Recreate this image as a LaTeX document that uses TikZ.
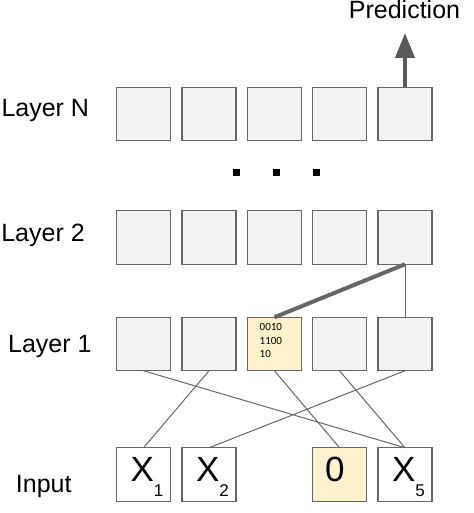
\documentclass[tikz,border=0pt]{standalone}
\usepackage{fontspec}
\setmainfont{Liberation Sans}
\newfontfamily\bitsfont{Carlito}
\usetikzlibrary{arrows.meta}

\definecolor{cellgray}{HTML}{F3F3F3}
\definecolor{cellline}{HTML}{666666}
\definecolor{celltan}{HTML}{FFF2CC}
\definecolor{arrowgray}{HTML}{595959}

% subscript of an input cell, set lower than TeX would
\newcommand{\insub}[1]{\raisebox{-15pt}{\fontsize{17}{17}\selectfont #1}}
% strut that puts the input text on the same baseline in every cell
\newcommand{\instrut}{\rule{0pt}{29.5pt}}

\begin{document}
\begin{tikzpicture}[
  x=1pt, y=-1pt,
  every node/.style={inner sep=1pt},
  cell/.style={rectangle, draw=cellline, fill=cellgray, line width=1.3pt,
    minimum width=54pt, minimum height=53.5pt, inner sep=0pt, outer sep=0pt},
  incell/.style={cell, fill=white, font=\fontsize{35}{40}\selectfont},
  lab/.style={anchor=base, font=\fontsize{25}{30}\selectfont},
  dot/.style={rectangle, fill=black, minimum size=7pt, inner sep=0pt},
  % thin links between the first layer and the input, thick for the one picked out
  link/.style={draw=cellline, line width=1pt},
  thick link/.style={draw=cellline, line width=4pt},
  outarrow/.style={draw=arrowgray, line width=4pt,
    -{Triangle[length=25pt, width=19pt]}}]

  \useasboundingbox (0,0) rectangle (473,513);

  % layer N
  \node[cell] (n1) at (143.5,114) {};
  \node[cell] (n2) at (209.0,114) {};
  \node[cell] (n3) at (274.5,114) {};
  \node[cell] (n4) at (339.5,114) {};
  \node[cell] (n5) at (405.0,114) {};

  % the dots between layer N and layer 2
  \node[dot] (d1) at (236,172) {};
  \node[dot] (d2) at (276,172) {};
  \node[dot] (d3) at (316,172) {};

  % layer 2
  \node[cell] (b1) at (143.5,237.5) {};
  \node[cell] (b2) at (209.0,237.5) {};
  \node[cell] (b3) at (274.5,237.5) {};
  \node[cell] (b4) at (339.5,237.5) {};
  \node[cell] (b5) at (405.0,237.5) {};

  % layer 1
  \node[cell] (a1) at (143.5,344) {};
  \node[cell] (a2) at (209.0,344) {};
  \node[cell, fill=celltan] (a3) at (274.5,344) {};
  \node[cell] (a4) at (339.5,344) {};
  \node[cell] (a5) at (405.0,344) {};
  \node[anchor=north west, inner sep=0pt, align=left,
    font=\bitsfont\fontsize{11}{13.3}\selectfont] (bits) at (259.5,323.5)
    {0010\\1100\\10};

  % input
  \node[incell] (in1) at (143.5,474.5) {\instrut\hspace*{7pt}X\insub{1}};
  \node[incell] (in2) at (209.0,474.5) {\instrut\hspace*{7pt}X\insub{2}};
  \node[incell, fill=celltan] (in4) at (339.5,474.5) {\instrut 0\phantom{\insub{0}}};
  \node[incell] (in5) at (405.0,474.5) {\instrut\hspace*{7pt}X\insub{5}};

  % links
  \draw[link] (a1.south) -- (in5.north);
  \draw[link] (a2.south) -- (in1.north);
  \draw[link] (a3.south) -- (in4.north);
  \draw[link] (a4.south) -- (in5.north);
  \draw[link] (a5.south) -- (in2.north);
  \draw[thick link] (b5.south) -- (a3.north);
  \draw[link] (b5.south) -- (a5.north);

  % output
  \coordinate (tip) at (405,33);
  \draw[outarrow] (n5.north) -- (tip);

  % labels printed inside the picture
  \node[lab] (pred)   at (404.5,18.3) {Prediction};
  \node[lab] (labn)   at (45.3,117)   {Layer N};
  \node[lab] (labtwo) at (43.0,241.7) {Layer 2};
  \node[lab] (labone) at (49.8,352)   {Layer 1};
  \node[lab] (labin)  at (43.8,492)   {Input};
\end{tikzpicture}
\end{document}
